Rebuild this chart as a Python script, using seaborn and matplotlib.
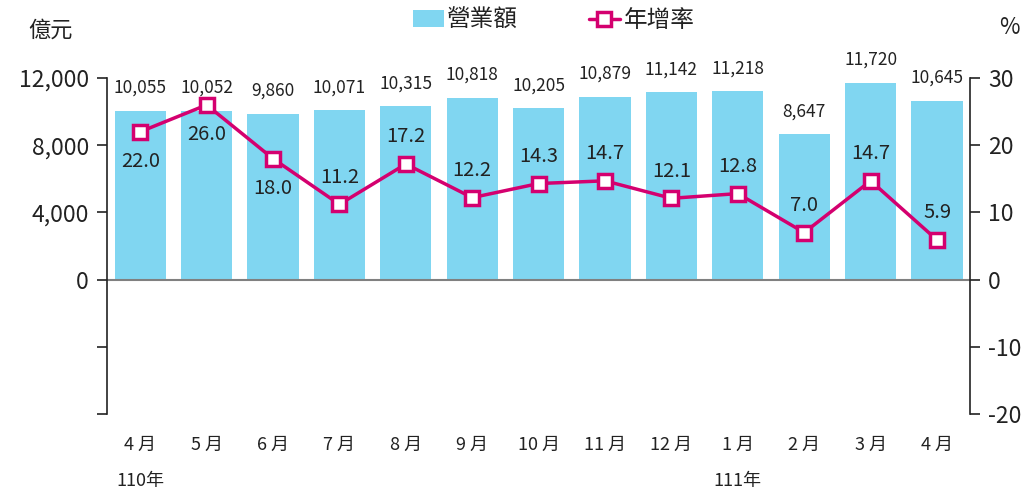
import numpy as np
import matplotlib
matplotlib.use("Agg")
import matplotlib.pyplot as plt
from matplotlib.patches import Patch
from matplotlib.lines import Line2D
from matplotlib.ticker import FuncFormatter
import seaborn as sns

# Data
months = ["4 月", "5 月", "6 月", "7 月", "8 月", "9 月", "10 月",
          "11 月", "12 月", "1 月", "2 月", "3 月", "4 月"]
sales = [10055, 10052, 9860, 10071, 10315, 10818, 10205,
         10879, 11142, 11218, 8647, 11720, 10645]
growth = [22.0, 26.0, 18.0, 11.2, 17.2, 12.2, 14.3,
          14.7, 12.1, 12.8, 7.0, 14.7, 5.9]
years = {0: "110年", 9: "111年"}

bar_color = "#80d6f1"
line_color = "#d4006f"
dark = "#222222"

sns.set_theme(style="white")
plt.rcParams["font.family"] = ["Noto Sans CJK TC", "DejaVu Sans"]

fig = plt.figure(figsize=(10.35, 4.97), dpi=100)
ax = fig.add_axes([0.1034, 0.167, 0.834, 0.676])

x = np.arange(len(months))

# Bars: sales
sns.barplot(x=x, y=sales, color=bar_color, saturation=1, width=0.77,
            linewidth=0, errorbar=None, ax=ax)
ax.set_ylim(-8000, 12000)
ax.set_yticks([-8000, -4000, 0, 4000, 8000, 12000])
ax.yaxis.set_major_formatter(FuncFormatter(lambda v, p: f"{int(v):,}" if v >= 0 else ""))
ax.axhline(0, color="#808080", lw=1.5, zorder=1)
ax.set_xticks(x)
ax.set_xticklabels(months)

for i, v in enumerate(sales):
    ax.annotate(f"{v:,}", (i, v), xytext=(0, 10), textcoords="offset points",
                ha="center", va="bottom", fontsize=12.5, color=dark)

# Line: growth rate
ax2 = ax.twinx()
sns.lineplot(x=x, y=growth, ax=ax2, color=line_color, lw=2.5, marker="s",
             markersize=10, markerfacecolor="white", markeredgecolor=line_color,
             markeredgewidth=2.5)
ax2.set_ylim(-20, 30)
ax2.set_yticks([-20, -10, 0, 10, 20, 30])
ax2.yaxis.set_major_formatter(FuncFormatter(lambda v, p: f"{int(v)}"))

below = {0, 1, 2}
for i, g in enumerate(growth):
    if i in below:
        ax2.annotate(f"{g:.1f}", (i, g), xytext=(0, -14), textcoords="offset points",
                     ha="center", va="top", fontsize=14.5, color=dark)
    else:
        ax2.annotate(f"{g:.1f}", (i, g), xytext=(0, 12), textcoords="offset points",
                     ha="center", va="bottom", fontsize=14.5, color=dark)

ax.set_xlim(-0.5, len(months) - 0.5)
ax2.set_xlim(-0.5, len(months) - 0.5)

# Axes styling
for a in (ax, ax2):
    for s in ["top", "bottom"]:
        a.spines[s].set_visible(False)
    a.set_xlabel("")
    a.set_ylabel("")
ax.spines["left"].set_color(dark)
ax.spines["left"].set_linewidth(1.2)
ax.spines["right"].set_visible(False)
ax2.spines["left"].set_visible(False)
ax2.spines["right"].set_color(dark)
ax2.spines["right"].set_linewidth(1.2)

ax.tick_params(axis="y", left=True, length=7, width=1.2, color=dark,
               labelsize=16.5, labelcolor=dark, pad=6)
ax2.tick_params(axis="y", right=True, length=7, width=1.2, color=dark,
                labelsize=16.5, labelcolor=dark, pad=6)
ax.tick_params(axis="x", length=0, labelsize=13, labelcolor=dark, pad=16)
ax2.tick_params(axis="x", bottom=False, labelbottom=False)

for i, y in years.items():
    ax.text(i, -0.2, y, transform=ax.get_xaxis_transform(),
            ha="center", va="center", fontsize=13, color=dark)

# Unit labels
fig.text(0.027, 0.94, "億元", ha="left", va="center", fontsize=16, color=dark)
fig.text(0.985, 0.945, "%", ha="right", va="center", fontsize=16, color=dark)

# Legend
handles = [
    Patch(facecolor=bar_color, edgecolor="none"),
    Line2D([0], [0], color=line_color, lw=2.5, marker="s", markersize=10,
           markerfacecolor="white", markeredgecolor=line_color, markeredgewidth=2.5),
]
fig.legend(handles, ["營業額", "年增率"], loc="upper center",
           bbox_to_anchor=(0.535, 1.025), ncol=2, frameon=False, fontsize=17,
           handlelength=1.3, handleheight=0.7, handletextpad=0.15,
           columnspacing=3.0, labelcolor=dark)

fig.savefig("out.png", dpi=100)
